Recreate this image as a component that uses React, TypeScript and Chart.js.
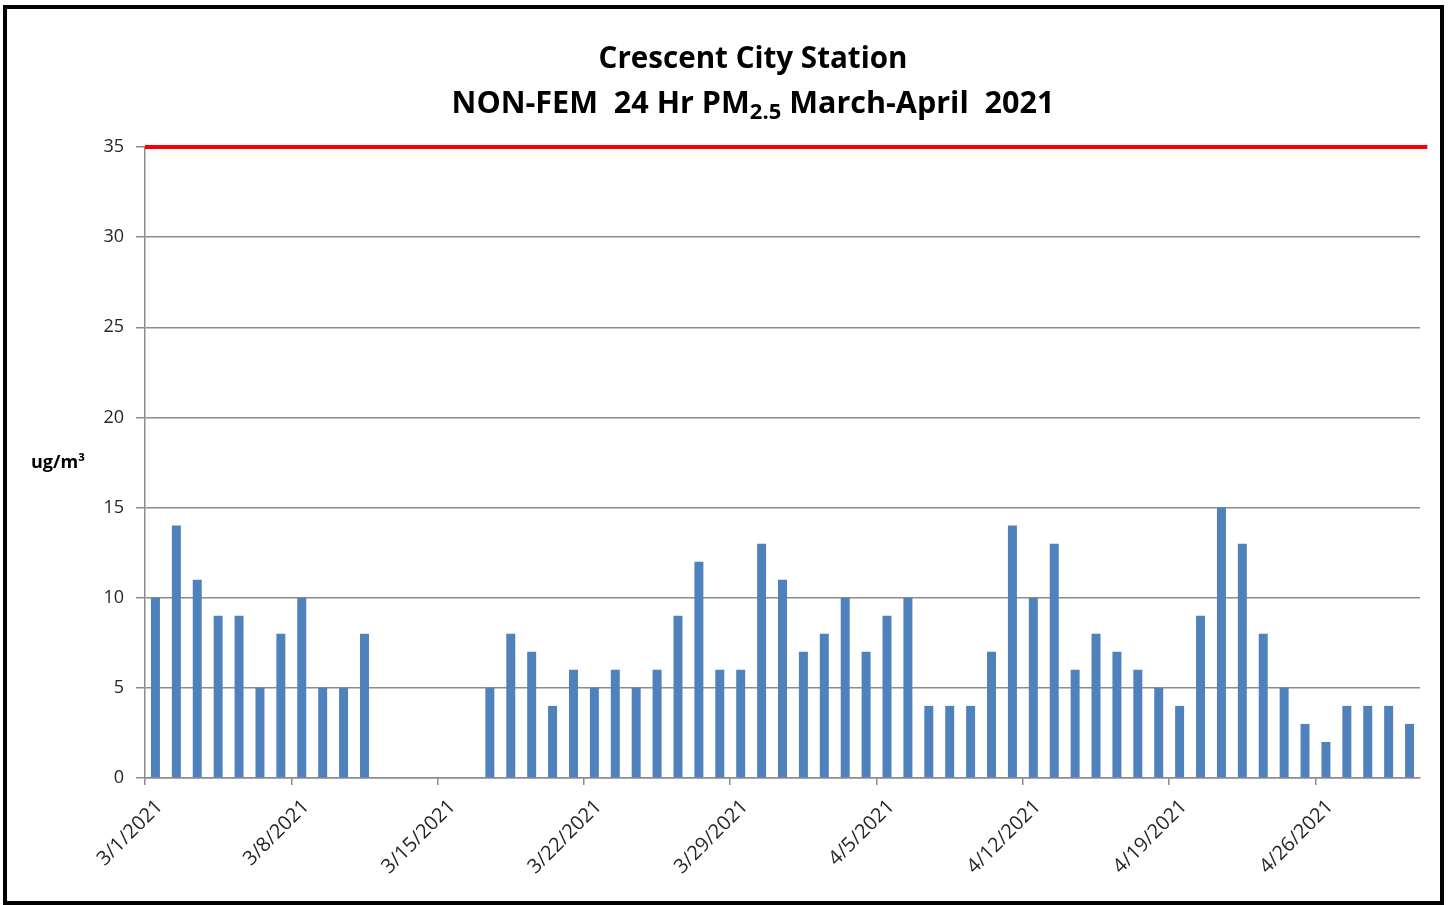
import React, { useEffect, useRef } from "react";
import { Chart, registerables } from "chart.js";

Chart.register(...registerables);

// Daily NON-FEM 24 Hr PM2.5 values, 3/1/2021 .. 4/30/2021 (null = no data)
const pm25: (number | null)[] = [
  10, 14, 11, 9, 9, 5, 8, 10, 5, 5, 8, null, null, null, null, null,
  5, 8, 7, 4, 6, 5, 6, 5, 6, 9, 12, 6, 6, 13, 11,
  7, 8, 10, 7, 9, 10, 4, 4, 4, 7, 14, 10, 13, 6, 8, 7, 6, 5, 4, 9, 15, 13, 8, 5, 3, 2, 4, 4, 4, 3,
];
const xTickLabels = [
  "3/1/2021", "3/8/2021", "3/15/2021", "3/22/2021",
  "3/29/2021", "4/5/2021", "4/12/2021", "4/19/2021", "4/26/2021",
];
const yTicks = [0, 5, 10, 15, 20, 25, 30, 35];
const standardValue = 35;
const titleLine1 = "Crescent City Station";
const titleLine2a = "NON-FEM  24 Hr PM";
const titleLine2sub = "2.5";
const titleLine2b = " March-April  2021";
const yAxisLabel = "ug/m³";

const FONT = '"Open Sans", "Noto Sans", sans-serif';
const DAYS_PER_TICK = 7;
const LABEL_SHIFT = 0.7; // label anchor sits a little right of the tick, like Excel

const decorPlugin = {
  id: "decor",
  afterDraw(chart: any) {
    const ctx = chart.ctx as CanvasRenderingContext2D;
    ctx.save();
    ctx.fillStyle = "#000";
    ctx.textBaseline = "alphabetic";
    ctx.textAlign = "left";
    ctx.font = `bold 28px ${FONT}`;
    const w1 = ctx.measureText(titleLine1).width;
    const size = 28 * 309 / w1;
    const cx = 753;
    ctx.font = `bold ${size}px ${FONT}`;
    const l1 = ctx.measureText(titleLine1).width;
    ctx.fillText(titleLine1, cx - l1 / 2, 68);
    const measure2 = (s: number) => {
      ctx.font = `bold ${s}px ${FONT}`;
      const a = ctx.measureText(titleLine2a).width;
      const b = ctx.measureText(titleLine2b).width;
      ctx.font = `bold ${s * 0.72}px ${FONT}`;
      const c = ctx.measureText(titleLine2sub).width;
      return { a, b, c, t: a + b + c };
    };
    const size2 = size * 603 / measure2(size).t;
    const m = measure2(size2);
    let x = cx - m.t / 2;
    ctx.font = `bold ${size2}px ${FONT}`;
    ctx.fillText(titleLine2a, x, 113);
    x += m.a;
    ctx.font = `bold ${size2 * 0.72}px ${FONT}`;
    ctx.fillText(titleLine2sub, x, 119);
    x += m.c;
    ctx.font = `bold ${size2}px ${FONT}`;
    ctx.fillText(titleLine2b, x, 113);
    ctx.font = `bold 18px ${FONT}`;
    ctx.textAlign = "center";
    ctx.textBaseline = "middle";
    ctx.fillText(yAxisLabel, 58, 463);
    ctx.restore();
  },
};

export default function App() {
  const ref = useRef<HTMLCanvasElement>(null);
  useEffect(() => {
    document.body.style.margin = "0";
    const barData = pm25.map((v, i) => ({ x: i + 0.5, y: v }));
    const lineData = [
      { x: 0, y: standardValue },
      { x: pm25.length + 0.35, y: standardValue },
    ];
    const chart = new Chart(ref.current as HTMLCanvasElement, {
      type: "bar",
      data: {
        datasets: [
          {
            type: "line",
            data: lineData as any,
            borderColor: "#ff0000",
            borderWidth: 4,
            pointRadius: 0,
            clip: false as any,
            order: 0,
          } as any,
          {
            type: "bar",
            data: barData as any,
            backgroundColor: "#4f81bd",
            borderWidth: 0,
            barPercentage: 0.43,
            categoryPercentage: 1,
            order: 1,
          } as any,
        ],
      },
      options: {
        animation: false,
        responsive: false,
        maintainAspectRatio: false,
        layout: { padding: { top: 147, right: 29, bottom: 0, left: 0 } },
        plugins: { legend: { display: false }, tooltip: { enabled: false }, title: { display: false } },
        scales: {
          x: {
            type: "linear",
            offset: false,
            weight: 0,
            min: 0,
            max: pm25.length,
            afterFit: (s: any) => { s.height = 7; },
            afterBuildTicks: (s: any) => {
              s.ticks = xTickLabels.map((_, i) => ({ value: i * DAYS_PER_TICK }));
            },
            ticks: { display: false },
            grid: { offset: false, drawOnChartArea: false, drawTicks: true, tickLength: 7, color: "#8c8c8c", lineWidth: 1.5 },
            border: { color: "#8c8c8c", width: 1.5 },
          },
          xl: {
            type: "linear",
            position: "bottom",
            offset: false,
            weight: 1,
            min: 0,
            max: pm25.length,
            afterFit: (s: any) => { s.height = 120; },
            afterBuildTicks: (s: any) => {
              s.ticks = xTickLabels.map((_, i) => ({ value: i * DAYS_PER_TICK + LABEL_SHIFT }));
            },
            ticks: {
              autoSkip: false,
              maxRotation: 45,
              minRotation: 45,
              padding: 10,
              color: "#262626",
              font: { family: FONT, size: 20 },
              callback: (v: any) => xTickLabels[Math.round((Number(v) - LABEL_SHIFT) / DAYS_PER_TICK)] ?? "",
            },
            grid: { display: false, drawTicks: false },
            border: { display: false },
          },
          y: {
            min: 0,
            max: 35,
            afterFit: (s: any) => { s.width = 145; },
            afterBuildTicks: (s: any) => { s.ticks = yTicks.map((v) => ({ value: v })); },
            ticks: {
              padding: 12,
              color: "#262626",
              font: { family: FONT, size: 18 },
            },
            grid: { color: "#8c8c8c", lineWidth: 1.5, tickLength: 9, drawTicks: true },
            border: { color: "#8c8c8c", width: 1.5 },
          },
        },
      },
      plugins: [decorPlugin],
    });
    return () => chart.destroy();
  }, []);
  return (
    <div style={{ position: "relative", width: 1449, height: 905, background: "#fff", overflow: "hidden" }}>
      <canvas ref={ref} width={1449} height={905} style={{ position: "absolute", left: 0, top: 0 }} />
      <div
        style={{
          position: "absolute",
          left: 3,
          top: 5,
          width: 1441,
          height: 900,
          border: "4px solid #000",
          boxSizing: "border-box",
          pointerEvents: "none",
        }}
      />
    </div>
  );
}
